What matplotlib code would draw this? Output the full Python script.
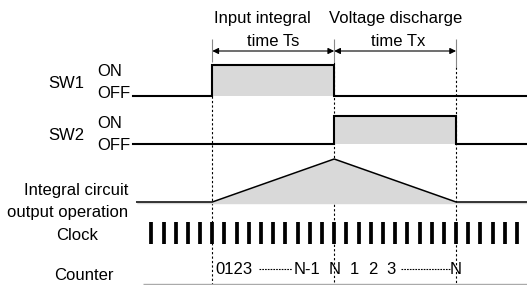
import matplotlib.pyplot as plt

plt.rcParams['font.family'] = ['Liberation Sans', 'DejaVu Sans']

# time axis is in clock periods, 0 = start of integration
ts_start, ts_end = 0, 10       # SW1 on  (input integral time Ts)
tx_start, tx_end = 10, 20      # SW2 on  (voltage discharge time Tx)

# switch waveforms (0 = OFF, 1 = ON)
sw1_t = [-6.5, 0, 0, 10, 10, 25.8]
sw1_v = [0, 0, 1, 1, 0, 0]
sw2_t = [-6.5, 10, 10, 20, 20, 25.8]
sw2_v = [0, 0, 1, 1, 0, 0]

# integrator output (relative)
integ_t = [-6.2, 0, 10, 20, 25.8]
integ_v = [0, 0, 1, 0, 0]

# clock pulses
clock_t = [-5, -4, -3, -2, -1, 0, 1, 2, 3, 4, 5, 6, 7, 8, 9, 10, 11, 12, 13, 14,
           15, 16, 17, 18, 19, 20, 21, 22, 23, 24, 25]

GRAY = '#d9d9d9'
FS = 12

fig = plt.figure(figsize=(5.27, 2.85), dpi=100)
ax = fig.add_axes([0, 0, 1, 1])
ax.set_xlim(-17.42, 25.82)
ax.set_ylim(285, 0)
ax.axis('off')

# row positions (y grows downward)
sw1_low, sw1_high = 95.7, 65
sw2_low, sw2_high = 143.5, 116
int_base, int_peak = 202, 159

def level(v, low, high):
    return [low - x * (low - high) for x in v]

# dashed guide lines
ax.vlines(ts_start, 96, 285, colors='k', linestyles=(0, (2, 2)), lw=0.8, zorder=1)
ax.vlines(ts_end, 62, 285, colors='k', linestyles=(0, (2, 2)), lw=0.8, zorder=1)
ax.vlines(tx_end, 67, 285, colors='k', linestyles=(0, (2, 2)), lw=0.8, zorder=1)

# SW1
y1 = level(sw1_v, sw1_low, sw1_high)
ax.fill_between(sw1_t, y1, sw1_low, color=GRAY, lw=0, zorder=2)
ax.plot(sw1_t, y1, color='k', lw=1.5, zorder=3, solid_joinstyle='miter')

# SW2
y2 = level(sw2_v, sw2_low, sw2_high)
ax.fill_between(sw2_t, y2, sw2_low, color=GRAY, lw=0, zorder=2)
ax.plot(sw2_t, y2, color='k', lw=1.5, zorder=3, solid_joinstyle='miter')

# integrator
yi = level(integ_v, int_base, int_peak)
ax.fill_between(integ_t, yi, int_base + 1.7, color=GRAY, lw=0, zorder=2)
ax.plot(integ_t, yi, color='k', lw=1.1, zorder=3)

# clock
ax.vlines(clock_t, 222, 244, colors='k', lw=2.7, zorder=3)

# counter baseline
ax.hlines(284, -5.67, 25.82, colors='#aaaaaa', lw=1.0)

# time spans at the top
ax.vlines([ts_start, ts_end], 39, 62, colors='#888888', lw=0.8)
ax.vlines(tx_end, 39, 67, colors='#888888', lw=0.8)
for a, b in [(ts_start, ts_end), (tx_start, tx_end)]:
    ax.annotate('', xy=(b, 51), xytext=(a, 51),
                arrowprops=dict(arrowstyle='<|-|>', color='k', lw=0.8,
                                shrinkA=0, shrinkB=0, mutation_scale=9))
ax.text(4.08, 18, 'Input integral', fontsize=FS, ha='center', va='center')
ax.text(5.02, 42, 'time Ts', fontsize=FS, ha='center', va='center')
ax.text(15.07, 18, 'Voltage discharge', fontsize=FS, ha='center', va='center')
ax.text(15.23, 42, 'time Tx', fontsize=FS, ha='center', va='center')

# left labels
ax.text(-11.96, 83, 'SW1', fontsize=FS, ha='center', va='center')
ax.text(-9.46, 72, 'ON', fontsize=FS, ha='left', va='center')
ax.text(-9.46, 93, 'OFF', fontsize=FS, ha='left', va='center')
ax.text(-11.96, 136, 'SW2', fontsize=FS, ha='center', va='center')
ax.text(-9.46, 123, 'ON', fontsize=FS, ha='left', va='center')
ax.text(-9.46, 145, 'OFF', fontsize=FS, ha='left', va='center')
ax.text(-6.91, 190, 'Integral circuit', fontsize=FS, ha='right', va='center')
ax.text(-6.91, 212, 'output operation', fontsize=FS, ha='right', va='center')
ax.text(-11.06, 235, 'Clock', fontsize=FS, ha='center', va='center')
ax.text(-10.57, 275, 'Counter', fontsize=FS, ha='center', va='center')

# counter values
cy = 269
ax.text(0.22, cy, '0123', fontsize=FS, ha='left', va='center')
ax.hlines(cy, 3.83, 6.54, colors='k', lw=0.8, linestyles=(0, (1.5, 1)))
ax.text(6.70, cy, 'N-1', fontsize=FS, ha='left', va='center')
ax.text(ts_end, cy, 'N', fontsize=FS, ha='center', va='center')
ax.text(11.62, cy, '1', fontsize=FS, ha='center', va='center')
ax.text(13.13, cy, '2', fontsize=FS, ha='center', va='center')
ax.text(14.66, cy, '3', fontsize=FS, ha='center', va='center')
ax.hlines(cy, 15.48, 19.5, colors='k', lw=0.8, linestyles=(0, (1.5, 1)))
ax.text(tx_end, cy, 'N', fontsize=FS, ha='center', va='center')

fig.savefig('out.png', dpi=100)
